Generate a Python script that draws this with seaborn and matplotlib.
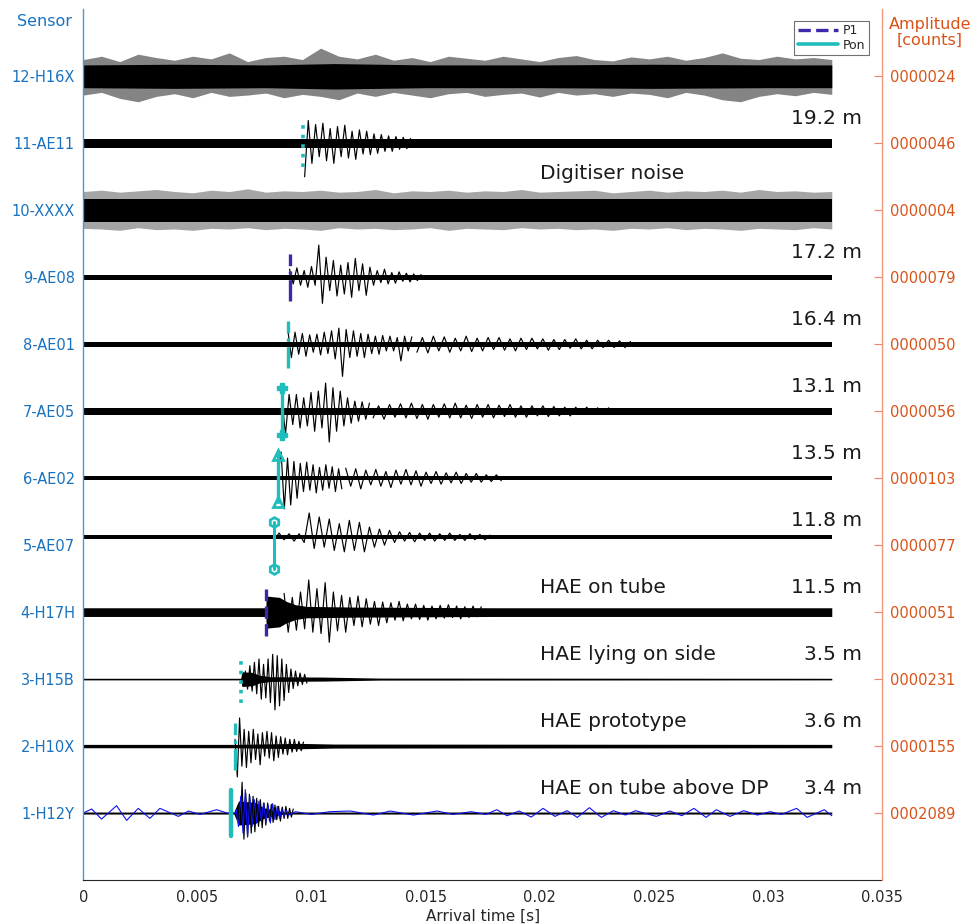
import numpy as np
import matplotlib
matplotlib.use("Agg")
import matplotlib.pyplot as plt
import seaborn as sns
from matplotlib.lines import Line2D

# ------------------ data ------------------

sensors = ['1-H12Y', '2-H10X', '3-H15B', '4-H17H', '5-AE07', '6-AE02',
           '7-AE05', '8-AE01', '9-AE08', '10-XXXX', '11-AE11', '12-H16X']
amplitudes = ['0002089', '0000155', '0000231', '0000051', '0000077', '0000103',
              '0000056', '0000050', '0000079', '0000004', '0000046', '0000024']
distances = ['3.4 m', '3.6 m', '3.5 m', '11.5 m', '11.8 m', '13.5 m',
             '13.1 m', '16.4 m', '17.2 m', '', '19.2 m', '']
notes = ['HAE on tube above DP', 'HAE prototype', 'HAE lying on side', 'HAE on tube',
         '', '', '', '', '', 'Digitiser noise', '', '']
baseline = [0, 0, 0, 0, 0.12, 0, 0, 0, 0, 0, 0, 0]

pick_time = [0.00648, 0.00665, 0.00692, 0.00801, 0.00836, 0.00853,
             0.0087, 0.00896, 0.00904, None, 0.00961, None]
pick_phase = ['Pon', 'Pon', 'Pon', 'P1', 'Pon', 'Pon',
              'Pon', 'Pon', 'P1', None, 'Pon', None]

t_end = 0.0328
xticks = [0, 0.005, 0.01, 0.015, 0.02, 0.025, 0.03, 0.035]
xtick_labels = ['0', '0.005', '0.01', '0.015', '0.02', '0.025', '0.03', '0.035']

# noise band (half width) knots per trace, bottom to top
band_t = [
    [0, 0.0066, 0.0068, 0.0075, 0.0079, 0.0084, 0.0088, t_end],
    [0, 0.0066, 0.0095, 0.011, t_end],
    [0, 0.0069, 0.00695, 0.0074, 0.0077, 0.0082, 0.0105, 0.013, t_end],
    [0, 0.008, 0.00802, 0.0086, 0.0089, 0.0093, 0.0098, 0.012, 0.018, t_end],
    [0, t_end],
    [0, t_end],
    [0, t_end],
    [0, t_end],
    [0, t_end],
    [0, t_end],
    [0, t_end],
    [0, 0.004, 0.008, 0.011, 0.015, 0.02, 0.025, 0.03, t_end],
]
band_w = [
    [0.015, 0.015, 0.18, 0.16, 0.08, 0.04, 0.015, 0.015],
    [0.025, 0.025, 0.04, 0.03, 0.025],
    [0.012, 0.012, 0.11, 0.1, 0.06, 0.035, 0.03, 0.015, 0.012],
    [0.065, 0.065, 0.24, 0.22, 0.16, 0.11, 0.085, 0.075, 0.065, 0.065],
    [0.025, 0.025],
    [0.03, 0.03],
    [0.055, 0.055],
    [0.035, 0.035],
    [0.035, 0.035],
    [0.17, 0.17],
    [0.07, 0.07],
    [0.17, 0.18, 0.17, 0.19, 0.17, 0.17, 0.18, 0.17, 0.17],
]

# spiky fringe of the two pure-noise traces
h16x_fringe_hi = [0.25, 0.3, 0.22, 0.33, 0.28, 0.24, 0.3, 0.26, 0.35, 0.22, 0.28, 0.3,
                  0.25, 0.42, 0.3, 0.26, 0.33, 0.24, 0.28, 0.22, 0.3, 0.27, 0.24, 0.3,
                  0.26, 0.22, 0.28, 0.31, 0.25, 0.23, 0.29, 0.26, 0.3, 0.24, 0.28, 0.35,
                  0.27, 0.25, 0.3, 0.26, 0.28, 0.25]
h16x_fringe_lo = [-0.28, -0.24, -0.33, -0.38, -0.3, -0.26, -0.32, -0.24, -0.3, -0.28,
                  -0.25, -0.32, -0.27, -0.3, -0.35, -0.25, -0.3, -0.24, -0.28, -0.32,
                  -0.26, -0.24, -0.3, -0.27, -0.25, -0.31, -0.24, -0.28, -0.26, -0.3,
                  -0.25, -0.27, -0.32, -0.24, -0.28, -0.35, -0.38, -0.3, -0.26, -0.29,
                  -0.24, -0.27]
xxxx_fringe_hi = [0.28, 0.3, 0.27, 0.29, 0.31, 0.28, 0.26, 0.3, 0.28, 0.32, 0.27, 0.29,
                  0.28, 0.3, 0.27, 0.28, 0.31, 0.26, 0.29, 0.28, 0.3, 0.27, 0.29, 0.28,
                  0.31, 0.27, 0.28, 0.29, 0.3, 0.26, 0.28, 0.3, 0.27, 0.29, 0.28, 0.3,
                  0.27, 0.31, 0.28, 0.29, 0.27, 0.28]
xxxx_fringe_lo = [-0.27, -0.28, -0.3, -0.26, -0.29, -0.28, -0.3, -0.27, -0.28, -0.26,
                  -0.29, -0.27, -0.28, -0.3, -0.26, -0.28, -0.27, -0.29, -0.28, -0.26,
                  -0.3, -0.27, -0.28, -0.29, -0.26, -0.28, -0.27, -0.29, -0.28, -0.3,
                  -0.27, -0.28, -0.26, -0.29, -0.27, -0.28, -0.3, -0.27, -0.28, -0.29,
                  -0.26, -0.28]
fringe_step = 0.0008

# waveform extrema (trace units), sampled from a start time with a fixed step
h12y_amp = [0.1, -0.15, 0.46, -0.39, 0.3, -0.35, 0.28, -0.3, 0.25, -0.28, 0.22, -0.2,
            0.2, -0.22, 0.15, -0.18, 0.15, -0.12, 0.13, -0.14, 0.12, -0.1, 0.1, -0.12,
            0.09, -0.08, 0.1, -0.08, 0.07, -0.06, 0.06]
h10x_amp = [0.1, -0.46, 0.42, -0.3, 0.25, -0.32, 0.22, -0.25, 0.25, -0.2, 0.18, -0.28,
            0.2, -0.15, 0.22, -0.18, 0.2, -0.22, 0.15, -0.17, 0.14, -0.12, 0.12, -0.13,
            0.1, -0.09, 0.1, -0.08, 0.07, -0.07, 0.06]
h15b_amp = [0.12, -0.15, 0.2, -0.18, 0.25, -0.22, 0.3, -0.3, 0.22, -0.28, 0.3, -0.35,
            0.37, -0.46, 0.35, -0.4, 0.3, -0.32, 0.22, -0.2, 0.15, -0.14, 0.12, -0.1,
            0.09, -0.08, 0.07, -0.06]
h17h_amp = [0.28, -0.3, 0.22, -0.27, 0.3, -0.25, 0.48, -0.3, 0.35, -0.32, 0.44, -0.45,
            0.3, -0.28, 0.25, -0.3, 0.22, -0.2, 0.24, -0.22, 0.2, -0.18, 0.16, -0.2,
            0.15, -0.16, 0.14, -0.12, 0.16, -0.13, 0.12, -0.1, 0.12, -0.11, 0.1, -0.12,
            0.09, -0.1, 0.1, -0.09, 0.11, -0.08, 0.09, -0.1, 0.08, -0.08, 0.09, -0.07, 0.08]
ae07_amp = [-0.05, 0.06, -0.04, 0.05, -0.06, 0.05, -0.08, 0.36, -0.17, 0.3, -0.15, 0.27,
            -0.2, 0.2, -0.22, 0.25, -0.2, 0.22, -0.22, 0.15, -0.15, 0.12, -0.12, 0.1,
            -0.08, 0.08, -0.06, 0.07, -0.07, 0.06, -0.05, 0.06, -0.06, 0.05, -0.05, 0.06,
            -0.05, 0.04, -0.05, 0.05, -0.04, 0.04, -0.04, 0.03]
ae02_head = [0.05, 0.39, -0.46, 0.3, -0.4, 0.25, -0.3, 0.22, -0.2, 0.24, -0.18, 0.2,
             -0.22, 0.16, -0.18, 0.2, -0.15, 0.17, -0.2, 0.14, -0.16]
ae02_tail = [0.15, -0.12, 0.14, -0.16, 0.12, -0.1, 0.13, -0.12, 0.1, -0.14, 0.12, -0.09,
             0.13, -0.1, 0.11, -0.12, 0.09, -0.08, 0.1, -0.09, 0.08, -0.07, 0.09, -0.08,
             0.07, -0.06, 0.07, -0.06, 0.05, -0.05, 0.05, -0.04]
ae05_head = [0.22, -0.35, 0.25, -0.2, 0.25, -0.25, 0.2, -0.22, 0.28, -0.3, 0.3, -0.25,
             0.42, -0.46, 0.35, -0.3, 0.3, -0.22, 0.2, -0.18, 0.15, -0.15, 0.14, -0.12, 0.12]
ae05_tail = [-0.1, 0.08, -0.12, 0.1, -0.09, 0.11, -0.1, 0.12, -0.11, 0.1, -0.12, 0.1,
             -0.09, 0.11, -0.1, 0.12, -0.1, 0.09, -0.11, 0.1, -0.09, 0.1, -0.1, 0.09,
             -0.08, 0.1, -0.09, 0.08, -0.09, 0.08, -0.07, 0.08, -0.08, 0.07, -0.07, 0.06,
             -0.07, 0.06, -0.05, 0.06, -0.05, 0.05, -0.04, 0.05, -0.04]
ae01_head = [0.22, -0.2, 0.18, -0.15, 0.16, -0.18, 0.14, -0.12, 0.15, -0.16, 0.18, -0.14,
             0.2, -0.22, 0.24, -0.48, 0.22, -0.2, 0.2, -0.18, 0.16, -0.2, 0.15, -0.14,
             0.12, -0.15, 0.13, -0.1, 0.12, -0.1, 0.1, -0.25, 0.12, -0.1, 0.11]
ae01_tail = [-0.12, 0.1, -0.13, 0.12, -0.1, 0.11, -0.12, 0.09, -0.1, 0.12, -0.11, 0.09,
             -0.1, 0.1, -0.08, 0.1, -0.09, 0.08, -0.1, 0.09, -0.08, 0.09, -0.07, 0.08,
             -0.09, 0.07, -0.08, 0.07, -0.06, 0.08, -0.07, 0.06, -0.07, 0.06, -0.05, 0.06,
             -0.05, 0.05, -0.05, 0.04]
ae08_amp = [0.12, -0.1, 0.14, -0.12, 0.1, -0.15, 0.16, -0.12, 0.48, -0.39, 0.3, -0.2,
            0.25, -0.28, 0.18, -0.25, 0.22, -0.3, 0.28, -0.2, 0.2, -0.27, 0.15, -0.12,
            0.1, -0.08, 0.12, -0.1, 0.07, -0.09, 0.08, -0.06, 0.06, -0.07, 0.05, -0.05, 0.04]
ae11_amp = [-0.5, 0.34, -0.3, 0.28, -0.2, 0.3, -0.26, 0.22, -0.3, 0.25, -0.2, 0.27,
            -0.22, 0.18, -0.24, 0.2, -0.16, 0.18, -0.17, 0.14, -0.15, 0.13, -0.12, 0.11,
            -0.12, 0.1, -0.09, 0.09, -0.08, 0.07, -0.06]

# (start time, step, extrema) for each trace number
wiggles = {
    1: [(0.0068, 0.00008, h12y_amp)],
    2: [(0.00665, 0.0001, h10x_amp)],
    3: [(0.0071, 0.0001, h15b_amp)],
    4: [(0.0088, 0.00018, h17h_amp)],
    5: [(0.00836, 0.00022, ae07_amp)],
    6: [(0.00853, 0.00014, ae02_head), (0.0115, 0.00022, ae02_tail)],
    7: [(0.0087, 0.00016, ae05_head), (0.0127, 0.00024, ae05_tail)],
    8: [(0.00896, 0.00016, ae01_head), (0.01462, 0.00024, ae01_tail)],
    9: [(0.00904, 0.00016, ae08_amp)],
    11: [(0.0097, 0.00016, ae11_amp)],
}

# blue trace on 1-H12Y
blue_pre_t = [0, 0.00037, 0.0008, 0.00146, 0.0019, 0.00241, 0.00292, 0.00336,
              0.00417, 0.00461, 0.00512, 0.00585, 0.0063, 0.0067]
blue_pre_y = [0.0, 0.06, -0.09, 0.11, -0.11, 0.07, -0.08, 0.07,
              -0.05, 0.03, -0.02, 0.05, 0.0, 0.0]
blue_sig_amp = [0.05, -0.2, 0.25, -0.3, 0.35, -0.36, 0.25, -0.2, 0.2, -0.15, 0.18, -0.12,
                0.15, -0.14, 0.12, -0.15, 0.14, -0.1, 0.1, -0.08, 0.06, -0.05, 0.04, -0.03]
blue_post_t = [0.0093, 0.01, 0.0108, 0.0117, 0.01272, 0.01345, 0.01447, 0.0155, 0.0162,
               0.017, 0.01765, 0.01812, 0.01857, 0.0191, 0.01963, 0.02015, 0.02067,
               0.0212, 0.02165, 0.02218, 0.0227, 0.02323, 0.02376, 0.0242, 0.02511,
               0.02571, 0.02623, 0.02676, 0.02729, 0.02774, 0.02834, 0.02894, 0.02954,
               0.0301, 0.0306, 0.03126, 0.03172, 0.03247, 0.0328]
blue_post_y = [0.02, -0.02, 0.02, 0.03, -0.03, 0.03, -0.03, 0.03, -0.02,
               0.02, -0.02, 0.05, -0.04, 0.03, -0.06, 0.07, -0.05,
               0.035, -0.065, 0.08, -0.065, 0.035, -0.03, 0.035, -0.05,
               0.03, -0.04, 0.07, -0.065, 0.05, -0.05, 0.035, -0.03,
               0.02, -0.02, 0.07, -0.065, 0.05, -0.04]

# ------------------ styling ------------------
sns.set_theme(style="white")
plt.rcParams['font.family'] = ['DejaVu Sans']

blue_lab = '#1A72BF'
orange = '#D95319'
cyan = '#20BDBD'
p1_col = '#3C28A8'

pick_style = {
    1: dict(ls='-', lw=3.2),
    2: dict(ls='-.', lw=2.4),
    3: dict(ls=':', lw=2.6),
    4: dict(ls='--', lw=2.4),
    5: dict(ls='-', lw=2.2, marker='h', ms=7, mfc='none', mew=2),
    6: dict(ls='-', lw=2.4, marker='^', ms=7, mfc='none', mew=2),
    7: dict(ls='-', lw=2.4, marker='P', ms=7, mew=1),
    8: dict(ls='-.', lw=2.4),
    9: dict(ls='-.', lw=2.4),
    11: dict(ls=':', lw=2.6),
}

fig = plt.figure(figsize=(9.75, 9.24), dpi=100)
ax = fig.add_axes([0.0854, 0.0476, 0.8192, 0.9423])

ft = fringe_step * np.arange(len(h16x_fringe_hi))
ft[-1] = t_end

for i, name in enumerate(sensors):
    k = i + 1
    off = k + baseline[i]
    bt = np.array(band_t[i])
    bw = np.array(band_w[i])
    if k == 12:
        ax.fill_between(ft, off + np.array(h16x_fringe_lo), off + np.array(h16x_fringe_hi),
                        color='0.2', alpha=0.6, lw=0)
    if k == 10:
        ax.fill_between(ft, off + np.array(xxxx_fringe_lo), off + np.array(xxxx_fringe_hi),
                        color='0.3', alpha=0.5, lw=0)
    ax.fill_between(bt, off - bw, off + bw, color='black', lw=0)

    for start, step, amp in wiggles.get(k, []):
        amp = np.array(amp)
        tt = start + step * np.arange(len(amp))
        sns.lineplot(x=tt, y=off + amp, ax=ax, color='black', linewidth=0.85,
                     sort=False, estimator=None, legend=False)

    if k == 1:
        bs = 0.0067 + 0.0001 * np.arange(len(blue_sig_amp))
        bx = np.concatenate([blue_pre_t, bs, blue_post_t])
        by = np.concatenate([blue_pre_y, blue_sig_amp, blue_post_y])
        sns.lineplot(x=bx, y=off + by, ax=ax, color='#1010F0', linewidth=0.8,
                     sort=False, estimator=None, legend=False)

    if pick_time[i] is not None:
        col = p1_col if pick_phase[i] == 'P1' else cyan
        st = pick_style[k]
        ax.plot([pick_time[i], pick_time[i]], [k - 0.35, k + 0.35], color=col,
                mec=col, zorder=5, **st)

    if distances[i]:
        ax.text(0.03411, k + 0.37, distances[i], ha='right', va='center', fontsize=14.5, color='#1a1a1a')
    if notes[i]:
        dy = 0.55 if k == 10 else 0.37
        ax.text(0.02, k + dy, notes[i], ha='left', va='center', fontsize=14.5, color='#1a1a1a')

ax.set_xlim(0, 0.035)
ax.set_ylim(0, 13)
ax.set_xticks(xticks)
ax.set_xticklabels(xtick_labels)
ax.set_yticks(range(1, 13))
ax.set_yticklabels(sensors)
ax.set_xlabel('Arrival time [s]', fontsize=11, color='#262626', labelpad=3)
ax.tick_params(axis='x', direction='in', length=5, width=0.8, colors='#262626',
               labelsize=10.5, pad=7)
ax.tick_params(axis='y', length=0, labelsize=10.5, labelcolor=blue_lab, pad=6)
ax.spines['top'].set_visible(False)
ax.spines['right'].set_visible(False)
ax.spines['bottom'].set_color('#262626')
ax.spines['bottom'].set_linewidth(0.8)
ax.spines['left'].set_color('#4A98DA')
ax.spines['left'].set_linewidth(1.0)

ax2 = ax.twinx()
ax2.set_ylim(0, 13)
ax2.set_yticks(range(1, 13))
ax2.set_yticklabels(amplitudes)
ax2.tick_params(axis='y', direction='in', length=6, width=0.8, color='#E8896A',
                labelcolor=orange, labelsize=10.5, pad=6)
for s in ['top', 'left', 'bottom']:
    ax2.spines[s].set_visible(False)
ax2.spines['right'].set_color('#EE9A7A')
ax2.spines['right'].set_linewidth(1.0)

handles = [Line2D([], [], color=p1_col, ls='--', lw=2.4),
           Line2D([], [], color=cyan, ls='-', lw=2.6)]
leg = ax2.legend(handles, ['P1', 'Pon'], loc='upper right', bbox_to_anchor=(0.984, 0.987),
                 fontsize=9, frameon=True, fancybox=False, edgecolor='0.3',
                 handlelength=3.2, borderpad=0.3, labelspacing=0.1, handletextpad=0.4,
                 borderaxespad=0)
leg.get_frame().set_linewidth(0.8)

fig.text(44.5 / 975, 1 - 22 / 924, 'Sensor', ha='center', va='center', fontsize=11.5, color=blue_lab)
fig.text(930 / 975, 1 - 32 / 924, 'Amplitude\n[counts]', ha='center', va='center',
         fontsize=11.5, color=orange, linespacing=1.05)

fig.savefig('out.png', dpi=100)
